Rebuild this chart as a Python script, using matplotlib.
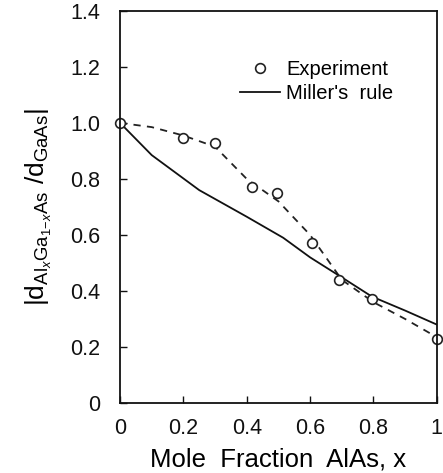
import matplotlib
matplotlib.use("Agg")
import matplotlib.pyplot as plt

plt.rcParams['font.family'] = ['Liberation Sans', 'DejaVu Sans']
plt.rcParams['mathtext.fontset'] = 'custom'
plt.rcParams['mathtext.rm'] = 'Liberation Sans'
plt.rcParams['mathtext.it'] = 'Liberation Sans:italic'

# Measured ratio vs AlAs mole fraction
exp_x = [0.0, 0.2, 0.3, 0.415, 0.495, 0.605, 0.69, 0.795, 1.0]
exp_y = [1.0, 0.945, 0.93, 0.77, 0.75, 0.57, 0.44, 0.37, 0.23]

# Guide curve through the measurements
guide_x = [0.0, 0.1, 0.2, 0.3, 0.4, 0.5, 0.6, 0.7, 0.8, 0.9, 1.0]
guide_y = [1.0, 0.985, 0.955, 0.915, 0.80, 0.72, 0.60, 0.44, 0.36, 0.30, 0.235]

# Miller's rule prediction
miller_x = [0.0, 0.1, 0.25, 0.4, 0.515, 0.6, 0.705, 0.795, 0.9, 1.0]
miller_y = [1.0, 0.885, 0.76, 0.665, 0.59, 0.52, 0.445, 0.38, 0.33, 0.28]

x_ticks = [0, 0.2, 0.4, 0.6, 0.8, 1.0]
x_labels = ["0", "0.2", "0.4", "0.6", "0.8", "1"]
y_ticks = [0, 0.2, 0.4, 0.6, 0.8, 1.0, 1.2, 1.4]
y_labels = ["0", "0.2", "0.4", "0.6", "0.8", "1.0", "1.2", "1.4"]

fig = plt.figure(figsize=(4.43, 4.73), dpi=100)
ax = fig.add_axes([0.271, 0.148, 0.715, 0.829])

ax.plot(guide_x, guide_y, color='#222222', lw=1.3, ls=(0, (4, 3.5)))
ax.plot(miller_x, miller_y, color='#111111', lw=1.3, label="Miller's  rule")
ax.plot(exp_x, exp_y, ls='none', marker='o', ms=7, mfc='white', mec='#222222',
        mew=1.2, label='Experiment', clip_on=False)

ax.set_xlim(0, 1)
ax.set_ylim(0, 1.4)
ax.set_xticks(x_ticks)
ax.set_xticklabels(x_labels)
ax.set_yticks(y_ticks)
ax.set_yticklabels(y_labels)
ax.tick_params(direction='in', length=5, width=1, labelsize=15.5,
               colors='#111111')
ax.tick_params(axis='x', pad=11)
ax.tick_params(axis='y', pad=14)
for s in ax.spines.values():
    s.set_linewidth(1.3)
    s.set_color('#111111')

ax.set_xlabel("Mole  Fraction  AlAs, x", fontsize=18.5, labelpad=6)
ax.set_ylabel(r"$|\mathrm{d}_{\mathrm{Al}_x\mathrm{Ga}_{1\!-\!x}\mathrm{As}}\ /\mathrm{d}_{\mathrm{GaAs}}|$",
              fontsize=19, labelpad=12)

handles, labels = ax.get_legend_handles_labels()
ax.legend(handles[::-1], labels[::-1], loc='upper right',
          bbox_to_anchor=(0.92, 0.92), frameon=False, fontsize=14.5,
          handlelength=2.0, handletextpad=0.3, labelspacing=0.25)

fig.savefig("out.png", dpi=100)
